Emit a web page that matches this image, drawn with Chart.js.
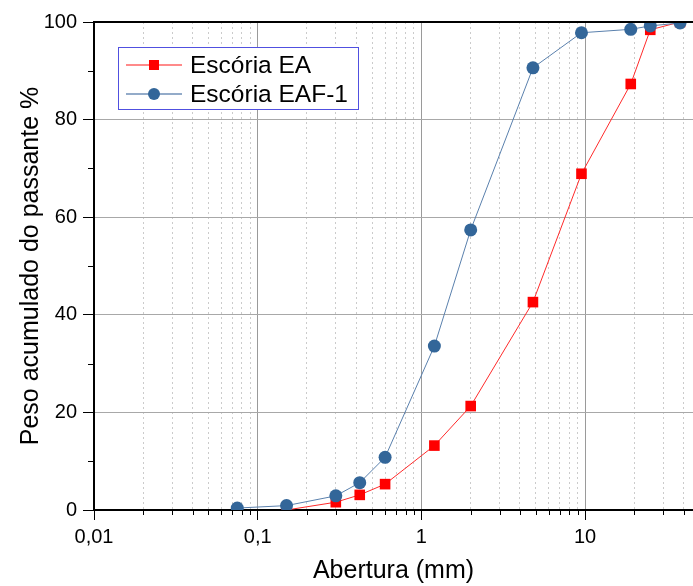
<!DOCTYPE html>
<html>
<head>
<meta charset="utf-8">
<script src="https://cdn.jsdelivr.net/npm/chart.js@4"></script>
<style>
html, body { margin: 0; padding: 0; background: #fff; }
</style>
</head>
<body>
<canvas id="curva" width="693" height="586"></canvas>
<script>
/* dados da granulometria */

const aberturaEA = [0.15, 0.3, 0.42, 0.6, 1.2, 2.0, 4.8, 9.5, 19, 25, 38];
const passanteEA = [0, 1.6, 3.1, 5.3, 13.2, 21.3, 42.6, 68.9, 87.3, 98.4, 100];

const aberturaEAF = [0.075, 0.15, 0.3, 0.42, 0.6, 1.2, 2.0, 4.8, 9.5, 19, 25, 38];
const passanteEAF = [0.4, 0.9, 2.9, 5.6, 10.8, 33.6, 57.4, 90.6, 97.8, 98.5, 99.2, 99.8];

const xTickValues = [
    0.01, 0.02, 0.03, 0.04, 0.05, 0.06, 0.07, 0.08, 0.09,
    0.1, 0.2, 0.3, 0.4, 0.5, 0.6, 0.7, 0.8, 0.9,
    1, 2, 3, 4, 5, 6, 7, 8, 9,
    10, 20, 30, 40
];
const xMajor = [0.01, 0.1, 1, 10];
const xLabels = ["0,01", "0,1", "1", "10"];

const yTickValues = [0, 10, 20, 30, 40, 50, 60, 70, 80, 90, 100];
const yLabels = [0, 20, 40, 60, 80, 100];

const seriesNames = ["Escória EA", "Escória EAF-1"];

const FONT = "'Liberation Sans', Arial, sans-serif";

function isXMajor(v)
{
    return xMajor.some(m => Math.abs(m - v) < m * 1e-6);
}

function isYMajor(v)
{
    return yLabels.indexOf(v) >= 0;
}


/* ticks menores, borda de cima e legenda */

const extras = {
    id: "extras",
    afterDraw(chart)
    {
        const c = chart.ctx;
        const area = chart.chartArea;
        const xs = chart.scales.x;
        const ys = chart.scales.y;
        c.save();
        c.strokeStyle = "#000";
        c.lineWidth = 1;
        c.beginPath();
        xTickValues.forEach(v => {
            if (isXMajor(v)) return;
            const px = Math.round(xs.getPixelForValue(v)) + 0.5;
            c.moveTo(px, area.bottom);
            c.lineTo(px, area.bottom + 5);
        });
        yTickValues.forEach(v => {
            if (isYMajor(v)) return;
            const py = Math.round(ys.getPixelForValue(v)) + 0.5;
            c.moveTo(area.left, py);
            c.lineTo(area.left - 6, py);
        });
        c.stroke();

        c.lineWidth = 2;
        c.beginPath();
        c.moveTo(area.left - 1, area.top);
        c.lineTo(area.right, area.top);
        c.stroke();

        // legenda
        const bx = 118.5, by = 47.5, bw = 240, bh = 62;
        c.fillStyle = "#fff";
        c.fillRect(bx, by, bw, bh);
        c.strokeStyle = "#5050e0";
        c.lineWidth = 1;
        c.strokeRect(bx, by, bw, bh);

        const rows = [65, 94];
        const lineCols = ["#ff8a8a", "#93abc9"];
        chart.data.datasets.forEach((ds, i) => {
            const y = rows[i];
            c.strokeStyle = lineCols[i];
            c.lineWidth = 2;
            c.beginPath();
            c.moveTo(126, y);
            c.lineTo(182, y);
            c.stroke();
            c.fillStyle = ds.pointBackgroundColor;
            if (ds.pointStyle === "rect") {
                c.fillRect(149, y - 5, 10, 10);
            } else {
                c.beginPath();
                c.arc(154, y, 6, 0, Math.PI * 2);
                c.fill();
            }
            c.fillStyle = "#000";
            c.font = "24.5px " + FONT;
            c.textBaseline = "middle";
            c.fillText(ds.label, 190, y + 1);
        });
        c.restore();
    }
};


/* grafico */

new Chart(
    document.getElementById("curva"),
    {
        type: "scatter",
        data: {
            datasets: [
                {
                    label: seriesNames[0],
                    data: aberturaEA.map((x, i) => ({ x: x, y: passanteEA[i] })),
                    showLine: true,
                    borderColor: "#ff2a2a",
                    borderWidth: 1,
                    pointStyle: "rect",
                    pointRadius: 7.5,
                    pointBorderWidth: 0,
                    pointBackgroundColor: "#ff0000",
                    order: 2
                },
                {
                    label: seriesNames[1],
                    data: aberturaEAF.map((x, i) => ({ x: x, y: passanteEAF[i] })),
                    showLine: true,
                    borderColor: "#5a80ad",
                    borderWidth: 1,
                    pointStyle: "circle",
                    pointRadius: 6.5,
                    pointBorderWidth: 0,
                    pointBackgroundColor: "#336699",
                    order: 1
                }
            ]
        },
        options: {
            responsive: false,
            animation: false,
            layout: {
                autoPadding: false,
                padding: { left: 0, top: 22, right: 0, bottom: 0 }
            },
            plugins: {
                legend: { display: false },
                tooltip: { enabled: false }
            },
            scales: {
                x: {
                    type: "logarithmic",
                    min: 0.01,
                    max: 45.6,
                    afterBuildTicks: scale => {
                        scale.ticks = xTickValues.map(v => ({ value: v }));
                    },
                    afterFit: scale => { scale.height = 76; },
                    ticks: {
                        autoSkip: false,
                        maxRotation: 0,
                        padding: 5,
                        color: "#000",
                        font: { family: FONT, size: 20 },
                        callback: v => {
                            const k = xMajor.findIndex(m => Math.abs(m - v) < m * 1e-6);
                            return k >= 0 ? xLabels[k] : "";
                        }
                    },
                    grid: {
                        color: ctx => ctx.tick && isXMajor(ctx.tick.value) ? "#9a9a9a" : "#cbcbcb",
                        lineWidth: 1,
                        tickLength: 10,
                        tickColor: ctx => ctx.tick && isXMajor(ctx.tick.value) ? "#000" : "rgba(0,0,0,0)"
                    },
                    border: {
                        color: "#000",
                        width: 2,
                        dash: ctx => ctx.tick && !isXMajor(ctx.tick.value) ? [2, 3] : []
                    },
                    title: {
                        display: true,
                        text: "Abertura (mm)",
                        color: "#000",
                        font: { family: FONT, size: 25 },
                        padding: { top: 0, bottom: 0 }
                    }
                },
                y: {
                    min: 0,
                    max: 100,
                    afterBuildTicks: scale => {
                        scale.ticks = yTickValues.map(v => ({ value: v }));
                    },
                    afterFit: scale => { scale.width = 94; },
                    ticks: {
                        autoSkip: false,
                        padding: 6,
                        color: "#000",
                        font: { family: FONT, size: 20 },
                        callback: v => isYMajor(v) ? v : ""
                    },
                    grid: {
                        color: ctx => ctx.tick && isYMajor(ctx.tick.value) ? "#a8a8a8" : "rgba(0,0,0,0)",
                        lineWidth: 1,
                        tickLength: 11,
                        tickColor: ctx => ctx.tick && isYMajor(ctx.tick.value) ? "#000" : "rgba(0,0,0,0)"
                    },
                    border: {
                        color: "#000",
                        width: 2
                    },
                    title: {
                        display: true,
                        text: "Peso acumulado do passante %",
                        color: "#000",
                        font: { family: FONT, size: 25 },
                        padding: { top: 16, bottom: 0 }
                    }
                }
            }
        },
        plugins: [extras]
    }
);
</script>
</body>
</html>
